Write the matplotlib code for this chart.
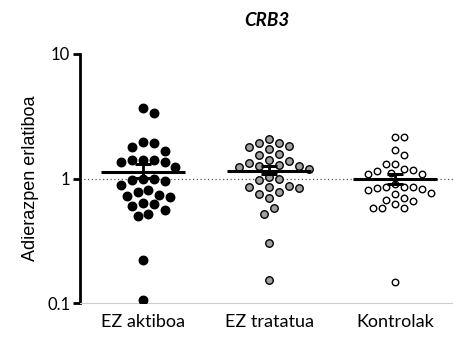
import numpy as np
import matplotlib
matplotlib.use("Agg")
import matplotlib.pyplot as plt

# ---- data ----
categories = ["EZ aktiboa", "EZ tratatua", "Kontrolak"]
ez_aktiboa = [3.72, 3.34, 1.96, 1.80, 1.94, 1.68, 1.42, 1.36, 1.24, 1.35, 1.40, 1.42,
              0.99, 0.97, 0.99, 0.95, 0.895, 0.73, 0.776, 0.815, 0.71, 0.743, 0.637,
              0.625, 0.605, 0.562, 0.503, 0.522, 0.222, 0.106]
ez_tratatua = [2.08, 1.92, 1.93, 1.82, 1.78, 1.72, 1.57, 1.56, 1.42, 1.38, 1.33, 1.26,
               1.23, 1.26, 1.28, 1.20, 1.04, 0.98, 0.99, 0.88, 0.86, 0.86, 0.836, 0.78,
               0.748, 0.695, 0.585, 0.517, 0.304, 0.155]
kontrolak = [2.16, 2.16, 1.71, 1.55, 1.32, 1.32, 1.17, 1.12, 1.15, 1.19, 1.08, 1.08,
             0.857, 0.84, 0.82, 0.90, 0.857, 0.758, 0.766, 0.816, 0.857, 0.678, 0.622,
             0.585, 0.585, 0.585, 0.661, 0.704, 0.148]
means = [1.14, 1.15, 1.00]
sem_low = [1.02, 1.08, 0.91]
sem_high = [1.30, 1.26, 1.08]
yticks = [0.1, 1, 10]
ytick_labels = ["0.1", "1", "10"]
title = "CRB3"
ylabel = "Adierazpen erlatiboa"

groups = [ez_aktiboa, ez_tratatua, kontrolak]
faces = ["black", "#a0a0a0", "white"]
marker_px = [9.5, 8.5, 7.5]
spacing_px = [10.8, 10.0, 9.0]

W, H, DPI = 453, 340, 100
fig = plt.figure(figsize=(W / DPI, H / DPI), dpi=DPI)
ax = fig.add_axes([80 / W, 1 - 303.3 / H, 1 - 80 / W, (303.3 - 54) / H])
ax.set_yscale("log")
ax.set_ylim(0.1, 10)
ax.set_xlim(-0.5, 2.46)
fig.canvas.draw()

p0 = ax.transData.transform((0, 1))
p1 = ax.transData.transform((1, 1))
ppx = p1[0] - p0[0]

def swarm(vals, d):
    vals = np.asarray(vals, float)
    ypx = np.array([ax.transData.transform((0, v))[1] for v in vals])
    order = np.argsort(-ypx)
    placed = []
    offs = np.zeros(len(vals))
    cands = [0.0]
    for k in range(1, 30):
        cands += [k * d / 2, -k * d / 2]
    for i in order:
        for c in cands:
            ok = True
            for (px, py) in placed:
                if (px - c) ** 2 + (py - ypx[i]) ** 2 < d ** 2:
                    ok = False
                    break
            if ok:
                offs[i] = c
                placed.append((c, ypx[i]))
                break
    return offs / ppx

for gi, vals in enumerate(groups):
    offs = swarm(vals, spacing_px[gi])
    ms = (marker_px[gi] - 1.0) * 72 / DPI
    ax.scatter(gi + offs, vals, s=ms ** 2, facecolor=faces[gi], edgecolor="black",
               linewidth=1.0, zorder=3)

# dotted reference line at 1
ax.axhline(1, color="#555555", lw=0.9, ls=(0, (1, 2)), zorder=1)

# mean and SEM
for gi in range(3):
    ax.plot([gi - 0.33, gi + 0.33], [means[gi], means[gi]], color="black", lw=2.2,
            zorder=4, solid_capstyle="butt")
    ax.errorbar([gi], [means[gi]],
                yerr=[[means[gi] - sem_low[gi]], [sem_high[gi] - means[gi]]],
                fmt="none", ecolor="black", elinewidth=2.0, capsize=6, capthick=2.2,
                zorder=4)

ax.set_yticks(yticks)
ax.set_yticklabels(ytick_labels)
ax.yaxis.set_minor_locator(matplotlib.ticker.NullLocator())
ax.set_xticks(range(3))
ax.set_xticklabels(categories)

for s in ["top", "right"]:
    ax.spines[s].set_visible(False)
ax.spines["left"].set_linewidth(2.0)
ax.spines["bottom"].set_color("#cccccc")
ax.spines["bottom"].set_linewidth(0.8)
ax.tick_params(axis="y", length=5, width=2.0, pad=2, labelsize=12)
ax.tick_params(axis="x", length=0, pad=8, labelsize=13)
for lab in ax.get_yticklabels() + ax.get_xticklabels():
    lab.set_family("Lato")

ax.set_ylabel(ylabel, family="Liberation Sans", fontsize=13, labelpad=6)
ax.set_title(title, family="Lato", fontstyle="italic", fontweight="bold",
             fontsize=13.5, pad=20)

fig.savefig("out.png", dpi=DPI)
